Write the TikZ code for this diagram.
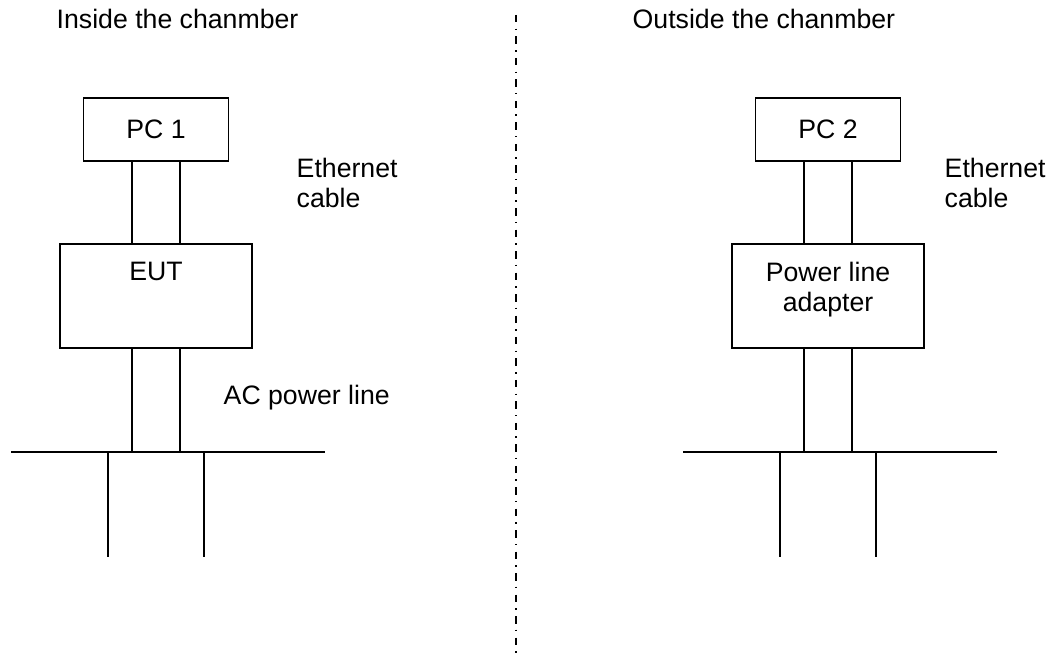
\documentclass[tikz,border=0pt]{standalone}
\usepackage{fontspec}
\setmainfont{Liberation Sans}
\usetikzlibrary{positioning}

\begin{document}
\begin{tikzpicture}[x=0.75pt,y=-0.75pt,line width=1.1pt,
    box/.style={draw,inner sep=0pt},
    pcbox/.style={box,minimum width=108.75pt,minimum height=47.25pt,font=\fontsize{20}{23}\selectfont},
    unitbox/.style={box,minimum width=144pt,minimum height=78pt},
    lbl/.style={font=\fontsize{20}{23}\selectfont,inner sep=0pt}]
    \useasboundingbox (0,0) rectangle (1053,659);
    % chamber wall
    \coordinate (walltop) at (516,15);
    \coordinate (wallbot) at (516,659);
    \draw[line width=1.4pt,dash pattern=on 5.6pt off 4.6pt on 1.1pt off 4.8pt] (walltop) -- (wallbot);
    \node[lbl,anchor=base west] (inside) at (56,29) {Inside the chanmber};
    \node[lbl,anchor=base west] (outside) at (632,29) {Outside the chanmber};

    % inside the chamber
    \node[pcbox] (pc1) at (156,129.5) {PC 1};
    \node[unitbox] (eut) at (156,296) {};
    \node[lbl,anchor=north,below=13.5pt of eut.north] (euttext) {EUT};
    \node[lbl,anchor=north west,align=left] (eth1) at (296,157) {Ethernet\\cable};
    \node[lbl,anchor=base west] (ac1) at (223,404) {AC power line};
    \coordinate (bus1w) at (11,452);
    \coordinate (bus1e) at (325,452);
    \coordinate (leg1a) at (108,557);
    \coordinate (leg1b) at (204,557);
    \draw ([xshift=-18pt]pc1.south) -- ([xshift=-18pt]pc1.south |- eut.north);
    \draw ([xshift=18pt]pc1.south) -- ([xshift=18pt]pc1.south |- eut.north);
    \draw ([xshift=-18pt]eut.south) -- ([xshift=-18pt]eut.south |- bus1w);
    \draw ([xshift=18pt]eut.south) -- ([xshift=18pt]eut.south |- bus1w);
    \draw (bus1w) -- (bus1e);
    \draw (leg1a |- bus1w) -- (leg1a);
    \draw (leg1b |- bus1w) -- (leg1b);

    % outside the chamber
    \node[pcbox] (pc2) at (828,129.5) {PC 2};
    \node[unitbox] (adapter) at (828,296) {};
    \node[lbl,anchor=north,align=center,below=13.5pt of adapter.north] (adaptertext) {Power line\\adapter};
    \node[lbl,anchor=north west,align=left] (eth2) at (944,157) {Ethernet\\cable};
    \coordinate (bus2w) at (683,452);
    \coordinate (bus2e) at (997,452);
    \coordinate (leg2a) at (780,557);
    \coordinate (leg2b) at (876,557);
    \draw ([xshift=-18pt]pc2.south) -- ([xshift=-18pt]pc2.south |- adapter.north);
    \draw ([xshift=18pt]pc2.south) -- ([xshift=18pt]pc2.south |- adapter.north);
    \draw ([xshift=-18pt]adapter.south) -- ([xshift=-18pt]adapter.south |- bus2w);
    \draw ([xshift=18pt]adapter.south) -- ([xshift=18pt]adapter.south |- bus2w);
    \draw (bus2w) -- (bus2e);
    \draw (leg2a |- bus2w) -- (leg2a);
    \draw (leg2b |- bus2w) -- (leg2b);
\end{tikzpicture}
\end{document}
